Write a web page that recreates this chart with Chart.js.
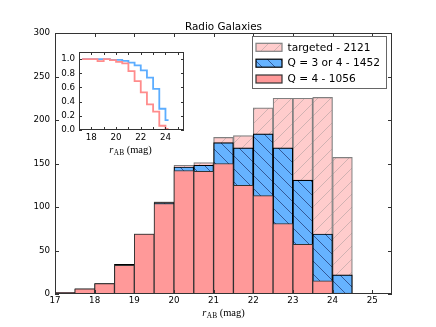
<!DOCTYPE html>
<html>
<head>
<meta charset="utf-8">
<script src="https://cdn.jsdelivr.net/npm/chart.js@4.4.1/dist/chart.umd.min.js"></script>
<style>
  html, body { margin: 0; padding: 0; background: #fff; }
  #wrap { position: relative; width: 436px; height: 327px; }
  #wrap canvas { position: absolute; left: 0; top: 0; }
</style>
</head>
<body>
<div id="wrap">
  <canvas id="main" width="436" height="327"></canvas>
  <canvas id="inset" width="436" height="327"></canvas>
</div>
<script>
// bins of 0.5 mag, given by their centres
const binCenters = [17.25, 17.75, 18.25, 18.75, 19.25, 19.75, 20.25, 20.75, 21.25, 21.75, 22.25, 22.75, 23.25, 23.75, 24.25];

// counts per bin
const targeted = [2, 6, 12, 34, 69, 106, 148, 151, 180, 182, 214, 225, 225, 226, 157];
const q34      = [2, 6, 12, 34, 69, 105, 146, 148, 174, 168, 184, 168, 131, 69, 22];
const q4       = [2, 6, 12, 33, 69, 104, 142, 141, 150, 125, 113, 81, 57, 15, 1];

// fraction per bin (inset)
const fracQ34 = [1.0, 1.0, 1.0, 1.0, 1.0, 0.99, 0.99, 0.975, 0.95, 0.91, 0.84, 0.74, 0.58, 0.30, 0.14];
const fracQ4  = [1.0, 1.0, 1.0, 0.97, 1.0, 0.985, 0.96, 0.94, 0.83, 0.69, 0.53, 0.36, 0.26, 0.06, 0.015];

const legendLabels = ['targeted - 2121', 'Q = 3 or 4 - 1452', 'Q = 4 - 1056'];
const chartTitle = 'Radio Galaxies';

const xTicks = [17, 18, 19, 20, 21, 22, 23, 24, 25];
const yTicks = [0, 50, 100, 150, 200, 250, 300];
const insetXTicks = [17, 18, 19, 20, 21, 22, 23, 24, 25];
const insetYTicks = [0, 0.2, 0.4, 0.6, 0.8, 1.0];

const FAMILY = '"DejaVu Sans", sans-serif';
const SERIF = '"Liberation Serif", "DejaVu Serif", serif';

const PINK = '#ffcccc';
const BLUE = '#66b3ff';
const SALMON = '#ff9999';

function pts(vals) {
    return vals.map((v, i) => ({ x: binCenters[i], y: v }));
}

function hatch(ctx, bg, lineColor, dir) {
    const s = 13;
    const c = document.createElement('canvas');
    c.width = s; c.height = s;
    const g = c.getContext('2d');
    g.fillStyle = bg;
    g.fillRect(0, 0, s, s);
    g.strokeStyle = lineColor;
    g.lineWidth = 1;
    g.beginPath();
    for (const k of [-s, 0, s]) {
        if (dir === '/') { g.moveTo(k, s); g.lineTo(k + s, 0); }
        else { g.moveTo(k, 0); g.lineTo(k + s, s); }
    }
    g.stroke();
    return ctx.createPattern(c, 'repeat');
}

function drawRab(ctx, cx, base, size) {
    const fr = `italic ${size}px ${SERIF}`;
    const fs = `${size * 0.7}px ${SERIF}`;
    const ft = `${size}px ${SERIF}`;
    ctx.font = fr; const wr = ctx.measureText('r').width + 0.5;
    ctx.font = fs; const ws = ctx.measureText('AB').width;
    ctx.font = ft; const wt = ctx.measureText(' (mag)').width;
    let x = cx - (wr + ws + wt) / 2;
    ctx.fillStyle = '#000';
    ctx.textAlign = 'left';
    ctx.textBaseline = 'alphabetic';
    ctx.font = fr; ctx.fillText('r', x, base); x += wr;
    ctx.font = fs; ctx.fillText('AB', x, base + size * 0.2); x += ws;
    ctx.font = ft; ctx.fillText(' (mag)', x, base);
}

function line(ctx, x1, y1, x2, y2) {
    ctx.beginPath(); ctx.moveTo(x1, y1); ctx.lineTo(x2, y2); ctx.stroke();
}

function drawFrameAndTicks(chart, len, color) {
    const { ctx, chartArea: a, scales: { x, y } } = chart;
    ctx.save();
    ctx.strokeStyle = color;
    ctx.lineWidth = 1;
    x.ticks.forEach(t => {
        const px = Math.round(x.getPixelForValue(t.value)) + 0.5;
        line(ctx, px, a.bottom, px, a.bottom - len);
        line(ctx, px, a.top, px, a.top + len);
    });
    y.ticks.forEach(t => {
        const py = Math.round(y.getPixelForValue(t.value)) + 0.5;
        line(ctx, a.left, py, a.left + len, py);
        line(ctx, a.right, py, a.right - len, py);
    });
    ctx.strokeRect(Math.round(a.left) + 0.5, Math.round(a.top) + 0.5,
        Math.round(a.right - a.left) - 1, Math.round(a.bottom - a.top) - 1);
    ctx.restore();
}

const ctxMain = document.getElementById('main').getContext('2d');
const pinkHatch = hatch(ctxMain, PINK, 'rgba(140,140,140,0.4)', '/');
const blueHatch = hatch(ctxMain, BLUE, 'rgba(0,0,50,0.5)', '\\');

const mainDecor = {
    id: 'mainDecor',
    afterDraw(chart) {
        const { ctx, chartArea: a } = chart;
        drawFrameAndTicks(chart, 4, '#333');
        ctx.save();
        // title
        ctx.fillStyle = '#000';
        ctx.font = `10.4px ${FAMILY}`;
        ctx.textAlign = 'center';
        ctx.textBaseline = 'alphabetic';
        ctx.fillText(chartTitle, (a.left + a.right) / 2, 30);
        // x label
        drawRab(ctx, (a.left + a.right) / 2, 316, 10.5);
        // legend
        const bx = 252.5, by = 36.5, bw = 134, bh = 52;
        ctx.fillStyle = '#fff';
        ctx.fillRect(bx, by, bw, bh);
        ctx.strokeStyle = '#666';
        ctx.lineWidth = 1;
        ctx.strokeRect(bx, by, bw, bh);
        const rows = [47.3, 63.2, 79];
        const fills = [pinkHatch, blueHatch, SALMON];
        const edges = ['#808080', '#000', '#333'];
        rows.forEach((ry, i) => {
            ctx.fillStyle = fills[i];
            ctx.fillRect(256, ry - 4, 26, 8);
            ctx.strokeStyle = edges[i];
            ctx.lineWidth = 1.2;
            ctx.strokeRect(256, ry - 4, 26, 8);
            ctx.fillStyle = '#000';
            ctx.font = `10.6px ${FAMILY}`;
            ctx.textAlign = 'left';
            ctx.textBaseline = 'middle';
            ctx.fillText(legendLabels[i], 287.5, ry + 0.5);
        });
        ctx.restore();
    }
};

new Chart(ctxMain, {
    type: 'bar',
    data: {
        datasets: [
            { label: legendLabels[2], data: pts(q4), backgroundColor: SALMON, borderColor: '#333', borderWidth: 1 },
            { label: legendLabels[1], data: pts(q34), backgroundColor: blueHatch, borderColor: '#000', borderWidth: 1.2 },
            { label: legendLabels[0], data: pts(targeted), backgroundColor: pinkHatch, borderColor: '#808080', borderWidth: 1.2 }
        ]
    },
    options: {
        responsive: false,
        animation: false,
        devicePixelRatio: 1,
        layout: { padding: { left: 0, right: 44, top: 33, bottom: 0 } },
        datasets: {
            bar: { grouped: false, barPercentage: 1, categoryPercentage: 1, borderSkipped: false }
        },
        plugins: { legend: { display: false }, tooltip: { enabled: false } },
        scales: {
            x: {
                type: 'linear', min: 17, max: 25.5, offset: false,
                grid: { display: false, drawTicks: false },
                border: { display: false },
                afterBuildTicks: s => { s.ticks = xTicks.map(v => ({ value: v })); },
                afterFit: s => { s.height = 33; },
                ticks: { padding: 2, color: '#000', font: { family: FAMILY, size: 8.7 }, maxRotation: 0, autoSkip: false }
            },
            y: {
                min: 0, max: 300,
                grid: { display: false, drawTicks: false },
                border: { display: false },
                afterBuildTicks: s => { s.ticks = yTicks.map(v => ({ value: v })); },
                afterFit: s => { s.width = 55; },
                ticks: { padding: 5, color: '#000', font: { family: FAMILY, size: 8.7 } }
            }
        }
    },
    plugins: [mainDecor]
});

const insetDecor = {
    id: 'insetDecor',
    beforeDatasetsDraw(chart) {
        const { ctx, chartArea: a } = chart;
        ctx.save();
        ctx.fillStyle = '#fff';
        ctx.fillRect(a.left, a.top, a.right - a.left, a.bottom - a.top);
        ctx.restore();
    },
    afterDraw(chart) {
        const { ctx, chartArea: a } = chart;
        drawFrameAndTicks(chart, 3, '#333');
        ctx.save();
        drawRab(ctx, (a.left + a.right) / 2 - 1, 153, 10.5);
        ctx.restore();
    }
};

new Chart(document.getElementById('inset'), {
    type: 'line',
    data: {
        datasets: [
            { data: pts(fracQ4), borderColor: '#ff8c8c', borderWidth: 1.8, stepped: 'middle', pointRadius: 0, fill: false },
            { data: pts(fracQ34), borderColor: '#5cadff', borderWidth: 1.8, stepped: 'middle', pointRadius: 0, fill: false }
        ]
    },
    options: {
        responsive: false,
        animation: false,
        devicePixelRatio: 1,
        layout: { padding: { left: 49, right: 252, top: 52, bottom: 167 } },
        plugins: { legend: { display: false }, tooltip: { enabled: false } },
        scales: {
            x: {
                type: 'linear', min: 17, max: 25.5,
                grid: { display: false, drawTicks: false },
                border: { display: false },
                afterBuildTicks: s => { s.ticks = insetXTicks.map(v => ({ value: v })); },
                afterFit: s => { s.height = 30; },
                ticks: {
                    padding: 3, color: '#000', font: { family: FAMILY, size: 8.7 }, maxRotation: 0, autoSkip: false,
                    callback: v => (v % 2 === 0 ? String(v) : '')
                }
            },
            y: {
                min: 0, max: 1.1,
                grid: { display: false, drawTicks: false },
                border: { display: false },
                afterBuildTicks: s => { s.ticks = insetYTicks.map(v => ({ value: v })); },
                afterFit: s => { s.width = 30; },
                ticks: { padding: 4, color: '#000', font: { family: FAMILY, size: 8.7 }, callback: v => v.toFixed(1) }
            }
        }
    },
    plugins: [insetDecor]
});
</script>
</body>
</html>
